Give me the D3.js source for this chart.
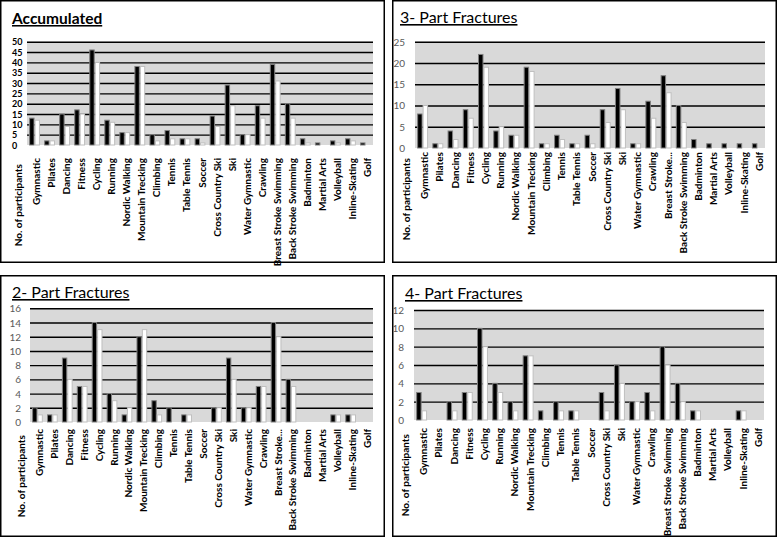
<!DOCTYPE html>
<html><head><meta charset="utf-8">
<script src="https://cdn.jsdelivr.net/npm/d3@7"></script>
<style>
html,body{margin:0;padding:0;background:#fff;}
svg{display:block;}
text{font-family:Lato, "Open Sans", sans-serif;}
</style></head>
<body>
<svg id="c" width="779" height="538"></svg>
<script>
const categories = ["Gymnastic","Pilates","Dancing","Fitness","Cycling","Running","Nordic Walking","Mountain Trecking","Climbing","Tennis","Table Tennis","Soccer","Cross Country Ski","Ski","Water Gymnastic","Crawling","Breast Stroke Swimming","Back Stroke Swimming","Badminton","Martial Arts","Volleyball","Inline-Skating","Golf"];
const categoriesShort = ["Gymnastic","Pilates","Dancing","Fitness","Cycling","Running","Nordic Walking","Mountain Trecking","Climbing","Tennis","Table Tennis","Soccer","Cross Country Ski","Ski","Water Gymnastic","Crawling","Breast Stroke...","Back Stroke Swimming","Badminton","Martial Arts","Volleyball","Inline-Skating","Golf"];
const yAxisTitle = "No. of participants";

const accBlack = [13,2,15,17,46,12,6,38,5,7,3,3,14,29,5,19,39,20,3,1,2,3,1];
const accWhite = [12,2,9,15,40,11,6,38,2,3,3,1,9,19,5,13,31,13,1,0,1,2,0];
const p3Black  = [8,1,4,9,22,4,3,19,1,3,1,3,9,14,1,11,17,10,2,1,1,1,1];
const p3White  = [10,1,2,7,19,5,3,18,1,2,1,1,6,9,1,7,13,6,0,0,0,0,0];
const p2Black  = [2,1,9,5,14,4,1,12,3,2,1,0,2,9,2,5,14,6,0,0,1,1,0];
const p2White  = [1,1,6,5,13,3,2,13,1,0,1,0,2,6,2,5,12,5,0,0,1,1,0];
const p4Black  = [3,0,2,3,10,4,2,7,1,2,1,0,3,6,2,3,8,4,1,0,0,1,0];
const p4White  = [1,0,1,3,8,3,1,7,0,1,1,0,1,4,2,1,6,2,1,0,0,1,0];

const ticksAcc = [0,5,10,15,20,25,30,35,40,45,50];
const ticks3 = [0,5,10,15,20,25];
const ticks2 = [0,2,4,6,8,10,12,14,16];
const ticks4 = [0,2,4,6,8,10,12];

const panels = [
  {title:"Accumulated", bold:true, box:[0,0,385,263], px:[27,373], py:[145,41.7], ticks:ticksAcc, black:accBlack, white:accWhite, labels:categories, labelTop:158, tickBold:true, tickSize:9, tickX:12, tickAnchor:"start", titleX:12, titleY:24, titleSize:15.5},
  {title:"3- Part Fractures", bold:false, box:[392,0,777,263], px:[415,765], py:[148,41.7], ticks:ticks3, black:p3Black, white:p3White, labels:categoriesShort, labelTop:152, tickBold:false, tickSize:10, tickX:405, tickAnchor:"end", titleX:400, titleY:23, titleSize:16},
  {title:"2- Part Fractures", bold:false, box:[0,275,385,537], px:[30,373], py:[422,308.3], ticks:ticks2, black:p2Black, white:p2White, labels:categoriesShort, labelTop:429, tickBold:false, tickSize:10, tickX:21, tickAnchor:"end", titleX:12, titleY:298, titleSize:16},
  {title:"4- Part Fractures", bold:false, box:[392,275,777,537], px:[414,764], py:[420,310], ticks:ticks4, black:p4Black, white:p4White, labels:categories, labelTop:428, tickBold:false, tickSize:10, tickX:404, tickAnchor:"end", titleX:405, titleY:299, titleSize:16}
];

const svg = d3.select("#c");

panels.forEach(p => {
  const g = svg.append("g");
  g.append("rect").attr("x",p.box[0]+0.75).attr("y",p.box[1]+0.75)
    .attr("width",p.box[2]-p.box[0]-1.5).attr("height",p.box[3]-p.box[1]-1.5)
    .attr("fill","#fff").attr("stroke","#000").attr("stroke-width",1.5);

  g.append("text").attr("x",p.titleX).attr("y",p.titleY)
    .attr("font-size",p.titleSize).attr("font-weight",p.bold?"bold":"normal")
    .attr("fill","#000").attr("text-decoration","underline").text(p.title);

  const x = d3.scaleBand().domain(d3.range(categories.length)).range(p.px).paddingInner(0.28).paddingOuter(0.14);
  const xs = d3.scaleBand().domain(["b","w"]).range([0,x.bandwidth()]);
  const yMax = p.ticks[p.ticks.length-1];
  const y = d3.scaleLinear().domain([0,yMax]).range(p.py);

  g.append("rect").attr("x",p.px[0]).attr("y",y(yMax)).attr("width",p.px[1]-p.px[0])
    .attr("height",y(0)-y(yMax)).attr("fill","#d9d9d9");

  const yAxis = d3.axisLeft(y).tickValues(p.ticks).tickSize(-(p.px[1]-p.px[0])).tickFormat(d3.format("d"));
  const ag = g.append("g").attr("transform",`translate(${p.px[0]},0)`).call(yAxis);
  ag.select(".domain").remove();
  ag.selectAll(".tick line").attr("stroke","#000").attr("stroke-width",1.4)
    .attr("display",d=>d===0?"none":null);
  ag.selectAll(".tick text").attr("font-size",p.tickSize).attr("font-weight",p.tickBold?"bold":"normal")
    .attr("fill",p.tickBold?"#000":"#595959").attr("font-family","Lato, sans-serif")
    .attr("text-anchor",p.tickAnchor).attr("x",p.tickX-p.px[0]).attr("dy","0.35em");

  const bars = g.append("g");
  p.black.forEach((v,i)=>{
    bars.append("rect").attr("x",x(i)+xs("b")+0.5).attr("y",y(v)).attr("width",xs.bandwidth()-1)
      .attr("height",Math.max(0,y(0)-y(v))).attr("fill","#000").attr("stroke","#7f7f7f").attr("stroke-width",1)
      .attr("display",v===0?"none":null);
  });
  p.white.forEach((v,i)=>{
    bars.append("rect").attr("x",x(i)+xs("w")+0.5).attr("y",y(v)).attr("width",xs.bandwidth()-1)
      .attr("height",Math.max(0,y(0)-y(v))).attr("fill","#fff").attr("stroke","#bfbfbf").attr("stroke-width",1)
      .attr("display",v===0?"none":null);
  });

  const lg = g.append("g");
  p.labels.forEach((lab,i)=>{
    const cx = x(i)+x.bandwidth()/2+2;
    lg.append("text").attr("transform",`translate(${cx},${p.labelTop}) rotate(-90)`)
      .attr("text-anchor","end").attr("dy","0.35em").attr("font-size",10).attr("font-weight","bold")
      .attr("fill","#000").text(lab);
  });
  lg.append("text").attr("transform",`translate(${p.px[0]-9},${p.labelTop+6}) rotate(-90)`)
    .attr("text-anchor","end").attr("dy","0.35em").attr("font-size",10).attr("font-weight","bold")
    .attr("fill","#000").text(yAxisTitle);
});
</script>
</body></html>
